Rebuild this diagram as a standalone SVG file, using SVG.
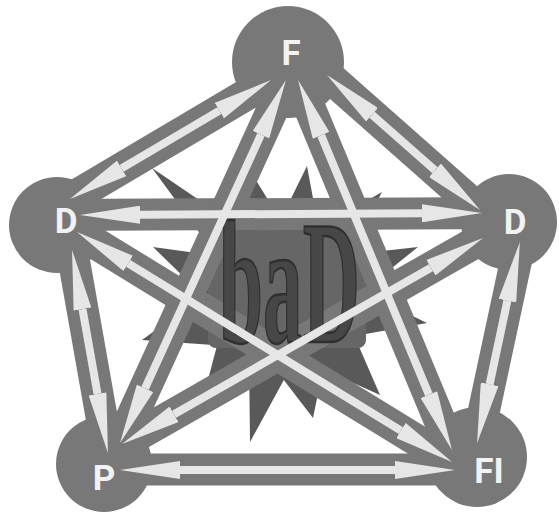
<svg xmlns="http://www.w3.org/2000/svg" width="559" height="516" viewBox="0 0 559 516">
<style>
.band{stroke:#787878;stroke-width:32;stroke-linecap:butt;fill:none}
.arr{stroke:#e6e6e6;stroke-width:8;fill:none;marker-start:url(#head);marker-end:url(#head)}
.node{fill:#787878}
.lbl{font-family:Roboto,"DejaVu Sans",sans-serif;font-weight:700;font-size:35px;fill:#f2f2f2;text-anchor:middle}
</style>
<defs>
<marker id="head" markerUnits="userSpaceOnUse" viewBox="0 0 60 18" refX="0" refY="9" markerWidth="60" markerHeight="18" orient="auto-start-reverse">
<path d="M0,0 L60,9 L0,18 z" fill="#e6e6e6"/>
</marker>
</defs>
<rect width="559" height="516" fill="#ffffff"/>
<g id="star">
<polygon fill="#595959" points="152,168 243.7,230.3 251,172 280.4,220.1 307,166 318.6,228.3 382,192 349,254.8 418,247 362.5,291.4 427,323 354.4,336.1 380,395 323,369.3 313,418 283.8,380 250,442 249.2,372.5 200,410 217.1,345.3 142,340 203.1,295.8 153,247 216.4,255.7"/>
<rect x="208" y="222" width="158" height="126" rx="8" fill="#666666"/>
</g>
<g id="connectors">
<g id="bands">
<line class="band" x1="50" y1="215.1" x2="512" y2="212.9"/>
<line class="band" x1="296.8" y1="64.7" x2="44.2" y2="214.3"/>
<line class="band" x1="304.5" y1="55.1" x2="502.5" y2="229.9"/>
<line class="band" x1="298.5" y1="52.7" x2="107.5" y2="470.3"/>
<line class="band" x1="286.5" y1="52.3" x2="463.5" y2="477.7"/>
<line class="band" x1="66.8" y1="220.5" x2="113.2" y2="482.5"/>
<line class="band" x1="51.4" y1="216.3" x2="477.6" y2="477.7"/>
<line class="band" x1="509.1" y1="223.1" x2="95.9" y2="458.9"/>
<line class="band" x1="526.3" y1="212.7" x2="470.7" y2="472.3"/>
<line class="band" x1="90" y1="469.5" x2="485" y2="469.5"/>
</g>
</g>
<g id="node-F"><circle class="node" cx="288" cy="62" r="56"/></g>
<g id="node-D-left"><circle class="node" cx="57" cy="225" r="48"/></g>
<g id="node-D-right"><circle class="node" cx="509" cy="222" r="48"/></g>
<g id="node-P"><circle class="node" cx="104" cy="464" r="48"/></g>
<g id="node-FI"><circle class="node" cx="477" cy="457" r="50"/></g>
<g id="center-text">
<text transform="translate(219,342) scale(0.45,1)" font-family="'Liberation Serif',serif" font-weight="700" font-size="176" fill="#474747" stroke="#303030" stroke-width="2.5">baD</text>
</g>
<g id="arrows">
<line class="arr" x1="140" y1="214.7" x2="422" y2="213.3"/>
<line class="arr" x1="219.4" y1="110.6" x2="121.6" y2="168.4"/>
<line class="arr" x1="372" y1="114.7" x2="435" y2="170.3"/>
<line class="arr" x1="261" y1="134.6" x2="145" y2="388.4"/>
<line class="arr" x1="321.1" y1="135.4" x2="428.9" y2="394.6"/>
<line class="arr" x1="82.5" y1="309.1" x2="97.5" y2="393.9"/>
<line class="arr" x1="128.2" y1="263.4" x2="400.9" y2="430.6"/>
<line class="arr" x1="430.9" y1="267.7" x2="174.1" y2="414.3"/>
<line class="arr" x1="507.4" y1="300.7" x2="489.6" y2="384.3"/>
<line class="arr" x1="180" y1="470" x2="395" y2="470"/>
</g>
<g id="labels">
<text class="lbl" x="291" y="65">F</text>
<text class="lbl" x="66" y="233">D</text>
<text class="lbl" x="515" y="234">D</text>
<text class="lbl" x="104" y="490">P</text>
<text class="lbl" x="489" y="483">FI</text>
</g>
</svg>
